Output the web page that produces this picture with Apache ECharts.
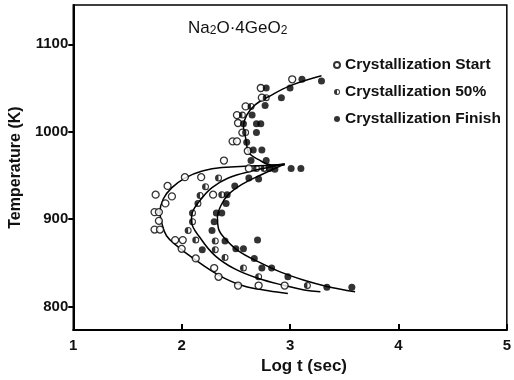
<!DOCTYPE html>
<html>
<head>
<meta charset="utf-8">
<script src="https://cdn.jsdelivr.net/npm/echarts@6/dist/echarts.min.js"></script>
<style>
  html, body { margin: 0; padding: 0; background: #fff; }
  #chart { width: 514px; height: 380px; }
</style>
</head>
<body>
<div id="chart"></div>
<script>
// tick labels
const xTicks = [1, 2, 3, 4, 5];
const yTicks = [800, 900, 1000, 1100];

// measured points [log t, T]
const startPts = [
    [3.02, 1060], [2.73, 1050], [2.74, 1039], [2.59, 1029], [2.51, 1019], [2.52, 1010],
    [2.56, 999], [2.47, 989], [2.51, 989], [2.61, 978], [2.39, 967], [2.62, 958], [2.29, 928],
    [2.03, 948], [2.18, 948], [1.87, 938], [1.76, 928], [1.91, 926], [1.85, 918], [1.75, 908],
    [1.79, 908], [1.79, 898], [1.75, 888], [1.80, 888], [1.94, 876], [2.01, 876], [2.00, 866],
    [2.13, 855], [2.30, 844], [2.34, 834], [2.52, 824], [2.71, 824], [2.95, 824]
];
const halfPts = [
    [2.56, 1019], [2.64, 1029], [2.59, 999], [2.78, 1039], [2.69, 958], [2.76, 958], [2.34, 947],
    [2.22, 937], [2.17, 927], [2.37, 928], [2.15, 918], [2.10, 907], [2.10, 897], [2.06, 887],
    [2.13, 876], [2.31, 875], [2.31, 865], [2.40, 856], [2.57, 844], [2.71, 834], [3.16, 824]
];
const finishPts = [
    [3.11, 1060], [3.29, 1058], [2.78, 1050], [3.00, 1050], [2.92, 1039], [2.77, 1030], [2.65, 1019],
    [2.57, 1009], [2.69, 1009], [2.73, 1009], [2.69, 999], [2.60, 988], [2.66, 979], [2.74, 979],
    [2.64, 967], [2.78, 967], [2.81, 958], [2.86, 957], [3.01, 958], [3.10, 958], [2.62, 947],
    [2.71, 946], [2.49, 938], [2.42, 928], [2.41, 918], [2.32, 907], [2.37, 907], [2.30, 897],
    [2.28, 887], [2.40, 875], [2.70, 876], [2.19, 865], [2.50, 866], [2.57, 866], [2.67, 855],
    [2.74, 844], [2.83, 844], [2.98, 834], [3.34, 822], [3.57, 822]
];

// drawn curves
const upperCurve = [
    [3.29, 1064], [3.01, 1053], [2.80, 1040], [2.68, 1031], [2.60, 1019], [2.57, 1006],
    [2.59, 993], [2.62, 976], [2.71, 968], [2.83, 962], [2.95, 963]
];
const startCurve = [
    [2.95, 962], [2.37, 959], [2.19, 955], [2.03, 947], [1.91, 936], [1.83, 923], [1.80, 908],
    [1.82, 894], [1.86, 881], [1.95, 870], [2.13, 853], [2.34, 836], [2.56, 824], [2.80, 818], [2.98, 815]
];
const halfCurve = [
    [2.95, 963], [2.65, 955], [2.43, 947], [2.28, 936], [2.18, 923], [2.10, 908], [2.09, 898],
    [2.18, 877], [2.31, 858], [2.49, 843], [2.71, 832], [2.95, 824], [3.13, 819], [3.28, 817]
];
const finishCurve = [
    [2.95, 963], [2.74, 951], [2.56, 940], [2.43, 928], [2.36, 915], [2.33, 902], [2.34, 889],
    [2.39, 879], [2.52, 864], [2.71, 851], [2.92, 839], [3.13, 830], [3.34, 823], [3.60, 817]
];

const seriesNames = ['Crystallization Start', 'Crystallization 50%', 'Crystallization Finish'];

// half filled circle (ring + left half)
const halfSymbol = 'path://M10,0 A10,10 0 1,1 10,20 A10,10 0 1,1 10,0 Z ' +
    'M10,3 A7,7 0 1,0 10,17 A7,7 0 1,0 10,3 Z M10,3 A7,7 0 0,0 10,17 Z';

const font = 'Liberation Sans';

let myChart = echarts.init(document.getElementById('chart'));

function curve(data) {
    return {
        type: 'line',
        data: data,
        smooth: 0.4,
        symbol: 'none',
        silent: true,
        z: 1,
        lineStyle: { color: '#000', width: 1.5 }
    };
}

let option = {
    animation: false,
    backgroundColor: '#fff',
    title: {
        text: 'Na{s|2}O·4GeO{s|2}',
        left: 183,
        top: 14,
        textStyle: {
            fontFamily: font,
            fontSize: 17,
            fontWeight: 'normal',
            color: '#111',
            rich: {
                s: { fontFamily: font, fontSize: 12, color: '#111', verticalAlign: 'bottom', padding: [6, 0, 0, 0] }
            }
        }
    },
    legend: {
        orient: 'vertical',
        left: 328,
        top: 52,
        itemWidth: 6,
        itemHeight: 6,
        itemGap: 11,
        data: seriesNames,
        textStyle: { fontFamily: font, fontSize: 15.5, fontWeight: 'bold', color: '#111' }
    },
    grid: {
        left: 65,
        right: 7,
        top: 5,
        bottom: 48,
        show: true,
        borderColor: '#000',
        borderWidth: 1.5
    },
    xAxis: {
        type: 'value',
        min: 1,
        max: 5,
        interval: 1,
        name: 'Log t (sec)',
        nameLocation: 'middle',
        nameGap: 26,
        nameTextStyle: { fontFamily: font, fontSize: 17, fontWeight: 'bold', color: '#111', padding: [0, 0, 0, 28] },
        axisLine: { lineStyle: { color: '#000', width: 2 } },
        axisTick: { inside: true, length: 6, lineStyle: { color: '#000', width: 2 } },
        axisLabel: {
            fontFamily: font, fontSize: 15, fontWeight: 'bold', color: '#111', margin: 8,
            showMinLabel: true, showMaxLabel: true,
            customValues: xTicks
        },
        splitLine: { show: false }
    },
    yAxis: {
        type: 'value',
        min: 773,
        max: 1145,
        name: 'Temperature (K)',
        nameLocation: 'middle',
        nameGap: 37,
        nameRotate: 90,
        nameTextStyle: { fontFamily: font, fontSize: 16, fontWeight: 'bold', color: '#111' },
        axisLine: { lineStyle: { color: '#000', width: 2 } },
        axisTick: { length: 5, lineStyle: { color: '#000', width: 2 }, customValues: yTicks },
        axisLabel: {
            fontFamily: font, fontSize: 15, fontWeight: 'bold', color: '#111', margin: 5,
            customValues: yTicks,
            formatter: function (v) { return String(v); }
        },
        splitLine: { show: false }
    },
    series: [
        curve(upperCurve),
        curve(startCurve),
        curve(halfCurve),
        curve(finishCurve),
        {
            name: seriesNames[0],
            type: 'scatter',
            data: startPts,
            symbol: 'circle',
            symbolSize: 7,
            z: 3,
            itemStyle: { color: '#fff', borderColor: '#000', borderWidth: 1.3 }
        },
        {
            name: seriesNames[1],
            type: 'scatter',
            data: halfPts,
            symbol: halfSymbol,
            symbolSize: 7,
            z: 3,
            itemStyle: { color: '#000' }
        },
        {
            name: seriesNames[2],
            type: 'scatter',
            data: finishPts,
            symbol: 'circle',
            symbolSize: 7,
            z: 3,
            itemStyle: { color: '#000' }
        }
    ]
};
myChart.setOption(option);
</script>
</body>
</html>
